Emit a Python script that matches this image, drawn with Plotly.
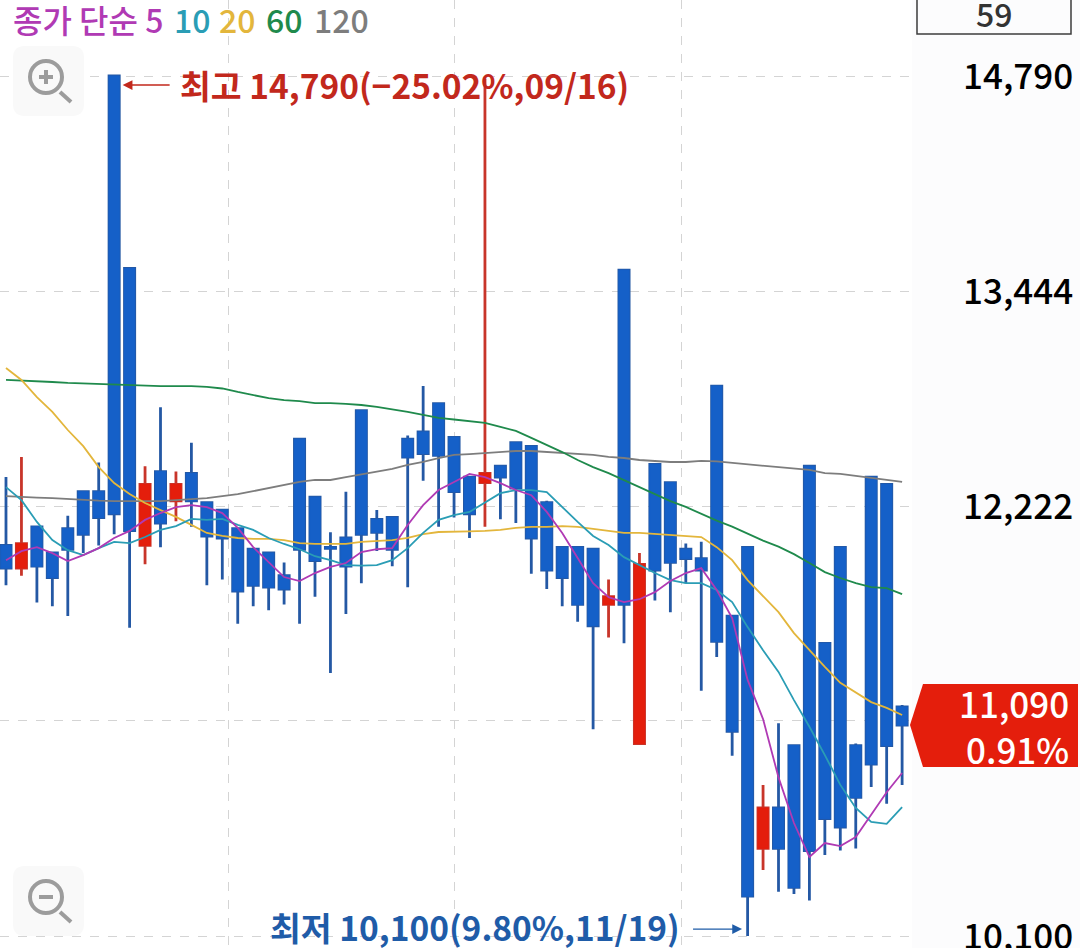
import math

import plotly.graph_objects as go

# daily OHLC (won)
opens = [12010, 11890, 12110, 11970, 12100, 12300, 12300, 14790, 13580, 12010,
         12410, 12250, 12400, 12240, 12200, 12100, 11990, 11970, 11850, 12590,
         12270, 12000, 12050, 12750, 12150, 12160, 12590, 12630, 12790, 12600,
         12380, 12350, 12440, 12570, 12550, 12240, 12000, 12000, 11990, 11700,
         13570, 11000, 12450, 12350, 11990, 11940, 12890, 11640, 12000, 10500,
         10690, 10990, 12440, 11500, 12000, 10990, 12380, 12340, 11180]
highs = [12380, 12490, 12110, 11970, 12170, 12300, 12460, 14790, 13580, 12440,
         12770, 12410, 12570, 12240, 12200, 12100, 11990, 11970, 11920, 12590,
         12270, 12080, 12300, 12750, 12200, 12160, 12610, 12890, 12790, 12600,
         12380, 14770, 12440, 12570, 12550, 12250, 12000, 12000, 11990, 11830,
         13570, 11970, 12450, 12350, 12020, 12030, 12890, 11640, 12000, 10800,
         11100, 10990, 12440, 11500, 12000, 11000, 12380, 12340, 11190]
lows = [11800, 11850, 11710, 11690, 11640, 11970, 12010, 12070, 11580, 11910,
        12000, 12140, 12110, 11800, 11830, 11600, 11690, 11670, 11700, 11600,
        11740, 11350, 11650, 11810, 11980, 11900, 11790, 12360, 12110, 12160,
        12050, 12110, 12150, 12130, 11860, 11780, 11690, 11610, 11070, 11530,
        11500, 11000, 11720, 11660, 11810, 11260, 11430, 10940, 10100, 10400,
        10300, 10290, 10260, 10470, 10490, 10500, 10790, 10710, 10800]
closes = [11890, 12020, 11900, 11840, 11990, 12070, 12160, 12180, 12090, 12340,
          12130, 12340, 12250, 12060, 12050, 11770, 11800, 11790, 11780, 11990,
          11930, 11995, 11900, 12070, 12080, 11990, 12490, 12510, 12500, 12300,
          12180, 12400, 12380, 12320, 12050, 11880, 11840, 11700, 11590, 11740,
          11700, 11910, 11880, 11920, 11940, 11880, 11510, 11060, 10280, 10690,
          10500, 10320, 10490, 10640, 10600, 10740, 10900, 10990, 11090]

# moving averages
ma5 = [11932, 11980, 12001, 11969, 11927, 11959, 11996, 12050, 12088, 12147,
       12184, 12216, 12227, 12216, 12184, 12104, 12001, 11922, 11843, 11822,
       11864, 11896, 11917, 11975, 11990, 11996, 12120, 12227, 12309, 12353,
       12397, 12380, 12347, 12309, 12281, 12190, 12077, 11943, 11811, 11738,
       11712, 11727, 11764, 11822, 11864, 11890, 11775, 11630, 11315, 11120,
       10836, 10619, 10460, 10525, 10511, 10553, 10656, 10765, 10857]
ma10 = [12325, 12254, 12136, 12039, 11985, 11959, 11996, 12029, 12023, 12055,
        12093, 12114, 12152, 12147, 12152, 12120, 12093, 12050, 12018, 11990,
        11953, 11932, 11906, 11903, 11906, 11932, 11996, 12077, 12147, 12173,
        12190, 12243, 12292, 12309, 12309, 12298, 12216, 12136, 12061, 12012,
        11948, 11906, 11864, 11827, 11811, 11811, 11775, 11712, 11583, 11465,
        11355, 11214, 11082, 10944, 10800, 10690, 10624, 10615, 10694]
ma20 = [12994, 12925, 12827, 12743, 12641, 12551, 12435, 12347, 12287, 12238,
        12200, 12163, 12120, 12077, 12061, 12050, 12045, 12045, 12039, 12023,
        12018, 12018, 12018, 12029, 12034, 12039, 12050, 12071, 12082, 12082,
        12085, 12088, 12093, 12104, 12109, 12109, 12114, 12109, 12098, 12088,
        12077, 12077, 12071, 12066, 12061, 12055, 12001, 11932, 11827, 11743,
        11660, 11552, 11465, 11380, 11300, 11250, 11204, 11175, 11140]
ma60 = [12925, 12922, 12919, 12913, 12908, 12905, 12902, 12899, 12896, 12890,
        12890, 12890, 12890, 12885, 12876, 12856, 12839, 12821, 12810, 12804,
        12793, 12793, 12788, 12782, 12771, 12759, 12743, 12726, 12709, 12700,
        12689, 12681, 12658, 12636, 12597, 12558, 12518, 12474, 12435, 12402,
        12364, 12325, 12287, 12249, 12217, 12180, 12143, 12111, 12073, 12036,
        12004, 11964, 11917, 11869, 11838, 11811, 11790, 11785, 11754]
ma120 = [12276, 12270, 12268, 12265, 12260, 12254, 12251, 12249, 12249, 12249,
         12249, 12254, 12260, 12265, 12276, 12287, 12303, 12320, 12336, 12353,
         12364, 12364, 12380, 12394, 12408, 12425, 12447, 12463, 12485, 12502,
         12507, 12513, 12518, 12524, 12524, 12518, 12513, 12507, 12502, 12491,
         12485, 12474, 12469, 12463, 12463, 12469, 12466, 12458, 12449, 12441,
         12435, 12427, 12419, 12402, 12397, 12386, 12375, 12364, 12353]

price_ticks = [14790, 13444, 12222, 11111, 10100]
price_labels = ["14,790", "13,444", "12,222", "", "10,100"]
date_ticks = [14.37, 29.06, 43.75]

legend_labels = ["종가 단순 5", "10", "20", "60", "120"]
legend_colors = ["#b03ab4", "#2a9db5", "#e3b63c", "#1f8a4c", "#7d7d7d"]

BLUE, RED = "#1560c8", "#e41e0c"
BLUE_WICK, RED_WICK = "#2458a4", "#c8352a"
FONT = "Noto Sans CJK KR"
W, H, PLOT_W = 1080, 948, 912

days = list(range(len(opens)))


def px(x, y):
    """Pixel position in the page to paper coordinates."""
    return x / PLOT_W, 1 - y / H


def add_path(fig, d_points, close=True, fill=None, line=None, width=0):
    pts = [px(*p) for p in d_points]
    path = "M " + " L ".join(f"{x:.5f},{y:.5f}" for x, y in pts) + (" Z" if close else "")
    fig.add_shape(type="path", path=path, xref="paper", yref="paper",
                  fillcolor=fill, line=dict(color=line, width=width), layer="above")


def add_zoom_icon(fig, top, plus):
    """Rounded grey button with a magnifier, drawn as shapes."""
    r = 12
    x0, x1, y0, y1 = 13, 84, top, top + 70
    corners = [(x0 + r, y0), (x1 - r, y0), (x1, y0), (x1, y0 + r), (x1, y1 - r), (x1, y1),
               (x1 - r, y1), (x0 + r, y1), (x0, y1), (x0, y1 - r), (x0, y0 + r), (x0, y0), (x0 + r, y0)]
    p = [f"{a:.5f},{b:.5f}" for a, b in (px(*c) for c in corners)]
    path = (f"M {p[0]} L {p[1]} Q {p[2]} {p[3]} L {p[4]} Q {p[5]} {p[6]} "
            f"L {p[7]} Q {p[8]} {p[9]} L {p[10]} Q {p[11]} {p[12]} Z")
    fig.add_shape(type="path", path=path, xref="paper", yref="paper", fillcolor="#f9f9f9",
                  line=dict(color="#f9f9f9", width=0), layer="above")
    cy = top + 31
    cx0, cy0 = px(30, cy - 16)
    cx1, cy1 = px(62, cy + 16)
    fig.add_shape(type="circle", xref="paper", yref="paper", x0=cx0, y0=cy0, x1=cx1, y1=cy1,
                  line=dict(color="#9c9c9c", width=4), layer="above")
    add_path(fig, [(60, cy + 15), (71, cy + 25)], close=False, line="#9c9c9c", width=4)
    add_path(fig, [(39, cy), (53, cy)], close=False, line="#9c9c9c", width=4)
    if plus:
        add_path(fig, [(46, cy - 7), (46, cy + 7)], close=False, line="#9c9c9c", width=4)


def add_text(fig, x, y, text, size, color, anchor="left", weight=500):
    ax, ay = px(x, y)
    fig.add_annotation(x=ax, y=ay, xref="paper", yref="paper", text=text, showarrow=False,
                       xanchor=anchor, yanchor="middle", align=anchor,
                       font=dict(family=FONT, size=size, color=color, weight=weight))


def add_arrow(fig, day, price, tail_dx, color):
    # annotations on a log axis take log10 of the value
    fig.add_annotation(x=day, y=math.log10(price), xref="x", yref="y", text=" ", showarrow=True,
                       axref="pixel", ayref="pixel", ax=tail_dx, ay=0, arrowhead=2, arrowsize=1.4,
                       arrowwidth=1.4, arrowcolor=color)


fig = go.Figure()

# moving averages sit behind the candles
for values, color in zip([ma120, ma60, ma20, ma10, ma5], reversed(legend_colors)):
    fig.add_trace(go.Scatter(x=days, y=values, mode="lines", hoverinfo="skip",
                             line=dict(color=color, width=1.8), showlegend=False))

# wicks first, in their darker colour
fig.add_trace(go.Candlestick(
    x=days, open=opens, high=highs, low=lows, close=closes, showlegend=False,
    increasing=dict(line=dict(color=RED_WICK, width=2.8), fillcolor=RED),
    decreasing=dict(line=dict(color=BLUE_WICK, width=2.8), fillcolor=BLUE),
))
# then the bodies on top
fig.add_trace(go.Candlestick(
    x=days, open=opens, close=closes, showlegend=False,
    high=[max(o, c) for o, c in zip(opens, closes)],
    low=[min(o, c) for o, c in zip(opens, closes)],
    increasing=dict(line=dict(color=RED, width=1), fillcolor=RED),
    decreasing=dict(line=dict(color=BLUE, width=1), fillcolor=BLUE),
))

add_zoom_icon(fig, 46, True)
add_zoom_icon(fig, 866, False)

# header legend
for x, label, color in zip([11, 172, 217, 264, 312], legend_labels, legend_colors):
    add_text(fig, x, 19, label, 32, color)

# high / low callouts
add_text(fig, 178, 85, "<b>최고 14,790(−25.02%,09/16)</b>", 33.5, "#c2281c")
add_arrow(fig, 7.55, 14731, 50, "#c2281c")
add_text(fig, 682, 926, "<b>최저 10,100(9.80%,11/19)</b>", 33.5, "#1f5ca8", anchor="right")
add_arrow(fig, 47.64, 10131, -52, "#1f5ca8")

# current price tag
add_path(fig, [(910, 725), (923, 684), (1078, 684), (1078, 767), (923, 767)], fill=RED)
add_text(fig, 1071, 725, "11,090<br>0.91%", 35, "white", anchor="right")

# visible candle count box
add_path(fig, [(917, -2), (917, 34), (1071, 34), (1071, -2)], close=False, line="#3c3c3c", width=1.5)
add_text(fig, 994, 13, "59", 32, "#333333", anchor="center")

fig.update_xaxes(range=[-0.388, 58.64], tickvals=date_ticks, showticklabels=False,
                 showgrid=True, gridcolor="#d4d4d4", griddash="dash", gridwidth=1,
                 zeroline=False, showline=False, ticks="", rangeslider_visible=False,
                 fixedrange=True, automargin=False)
fig.update_yaxes(type="log", range=[4.00201, 4.18461], side="right",
                 tickvals=price_ticks, ticktext=price_labels, ticks="",
                 showgrid=True, gridcolor="#d4d4d4", griddash="dash", gridwidth=1,
                 zeroline=False, showline=False, ticklabelstandoff=50,
                 ticklabeloverflow="allow", ticklabelshift=1, automargin=False,
                 tickfont=dict(family=FONT, size=35, color="black", weight=500), fixedrange=True)
fig.update_layout(width=W, height=H, margin=dict(l=0, r=W - PLOT_W, t=0, b=0),
                  paper_bgcolor="#fcfcfd", plot_bgcolor="white",
                  boxgap=0.34, boxgroupgap=0, showlegend=False)

fig.write_html("out.html", config=dict(displayModeBar=False),
               post_script="document.body.style.margin='0';document.body.style.overflow='hidden';")
